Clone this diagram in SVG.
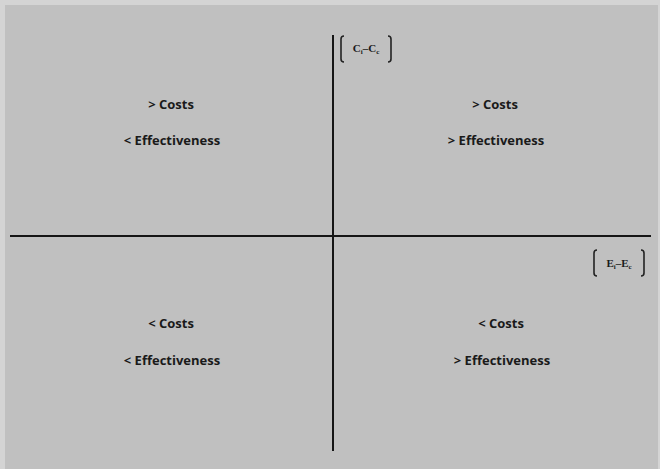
<svg xmlns="http://www.w3.org/2000/svg" width="660" height="469" viewBox="0 0 660 469">
<style>
.t{font-family:"Open Sans","Liberation Sans",sans-serif;font-weight:bold;font-size:13px;fill:#1a1a1a;text-anchor:middle}
.s{font-family:"Liberation Serif",serif;font-weight:bold;font-size:11px;fill:#1a1a1a;text-anchor:middle}
.ax{stroke:#151515;stroke-width:2;fill:none}
.br{stroke:#222;stroke-width:1.6;fill:none}
</style>
<rect x="0" y="0" width="660" height="469" fill="#d4d4d4"/>
<rect x="5" y="5" width="653" height="464" fill="#c0c0c0"/>
<g id="connectors">
<line class="ax" x1="333" y1="35" x2="333" y2="451"/>
<line class="ax" x1="10" y1="236" x2="651" y2="236"/>
</g>
<g id="y-label">
<path class="br" d="M344,36 Q341,36 341,39 V59 Q341,62 344,62"/>
<path class="br" d="M388,36 Q391,36 391,39 V59 Q391,62 388,62"/>
<text class="s" x="366" y="52">C<tspan font-size="7" dy="2">i</tspan><tspan dy="-2">–C</tspan><tspan font-size="7" dy="2">c</tspan></text>
</g>
<g id="x-label">
<path class="br" d="M597,250 Q594,250 594,253 V273 Q594,276 597,276"/>
<path class="br" d="M641,250 Q644,250 644,253 V273 Q644,276 641,276"/>
<text class="s" x="619" y="267">E<tspan font-size="7" dy="2">i</tspan><tspan dy="-2">–E</tspan><tspan font-size="7" dy="2">c</tspan></text>
</g>
<g id="q2">
<text class="t" x="171" y="109">&gt; Costs</text>
<text class="t" x="172" y="145">&lt; Effectiveness</text>
</g>
<g id="q1">
<text class="t" x="495" y="109">&gt; Costs</text>
<text class="t" x="496" y="145">&gt; Effectiveness</text>
</g>
<g id="q3">
<text class="t" x="171" y="328">&lt; Costs</text>
<text class="t" x="172" y="365">&lt; Effectiveness</text>
</g>
<g id="q4">
<text class="t" x="501" y="328">&lt; Costs</text>
<text class="t" x="502" y="365">&gt; Effectiveness</text>
</g>
</svg>
